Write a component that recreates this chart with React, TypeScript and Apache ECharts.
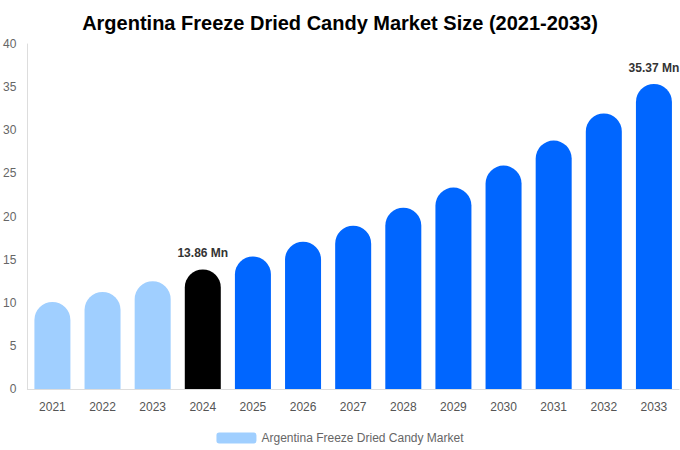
import { useEffect, useRef } from 'react'
import * as echarts from 'echarts'

const years = ['2021', '2022', '2023', '2024', '2025', '2026', '2027', '2028', '2029', '2030', '2031', '2032', '2033']
const marketSize = [10.1, 11.25, 12.5, 13.86, 15.37, 17.08, 18.93, 21.02, 23.35, 25.9, 28.8, 31.95, 35.37]
const labelledYears = ['2024', '2033']

const HISTORIC = '#a0cfff'
const BASE = '#000000'
const FORECAST = '#0066ff'

export default function App() {
  const chartRef = useRef<HTMLDivElement>(null)

  useEffect(() => {
    if (!chartRef.current) return
    const chart = echarts.init(chartRef.current, null, { renderer: 'svg' })

    const data = marketSize.map((v, i) => {
      const year = Number(years[i])
      const color = year < 2024 ? HISTORIC : year === 2024 ? BASE : FORECAST
      return {
        value: v,
        itemStyle: { color },
        label: { show: labelledYears.includes(years[i]) }
      }
    })

    chart.setOption({
      animation: false,
      textStyle: { fontFamily: '"Liberation Sans", Arial, sans-serif' },
      title: {
        text: 'Argentina Freeze Dried Candy Market Size (2021-2033)',
        left: 'center',
        top: 8,
        textStyle: {
          fontFamily: '"Liberation Sans", Arial, sans-serif',
          fontSize: 20,
          fontWeight: 'bold',
          color: '#000'
        }
      },
      legend: {
        data: ['Argentina Freeze Dried Candy Market'],
        top: 427,
        left: 'center',
        itemWidth: 40,
        itemHeight: 11,
        itemGap: 6,
        textStyle: { color: '#666', fontSize: 12 }
      },
      grid: {
        left: 27,
        right: 1,
        top: 44,
        bottom: 61
      },
      xAxis: {
        type: 'category',
        data: years,
        axisTick: { show: false },
        axisLine: { lineStyle: { color: '#dddddd' } },
        axisLabel: { color: '#555', fontSize: 12, margin: 12 }
      },
      yAxis: {
        type: 'value',
        min: 0,
        max: 40,
        interval: 5,
        splitLine: { show: false },
        axisLine: { show: true, lineStyle: { color: '#dddddd' } },
        axisLabel: { color: '#666', fontSize: 12, margin: 11 }
      },
      series: [
        {
          name: 'Argentina Freeze Dried Candy Market',
          type: 'bar',
          data,
          barWidth: 36,
          itemStyle: { color: HISTORIC, borderRadius: [18, 18, 0, 0] },
          label: {
            show: false,
            position: 'top',
            distance: 10,
            formatter: (p: any) => `${p.value} Mn`,
            color: '#333',
            fontSize: 12,
            fontWeight: 'bold'
          }
        }
      ]
    })

    return () => {
      chart.dispose()
    }
  }, [])

  return (
    <div
      ref={chartRef}
      style={{ position: 'fixed', left: 0, top: 0, width: 680, height: 450, background: '#fff' }}
    />
  )
}
